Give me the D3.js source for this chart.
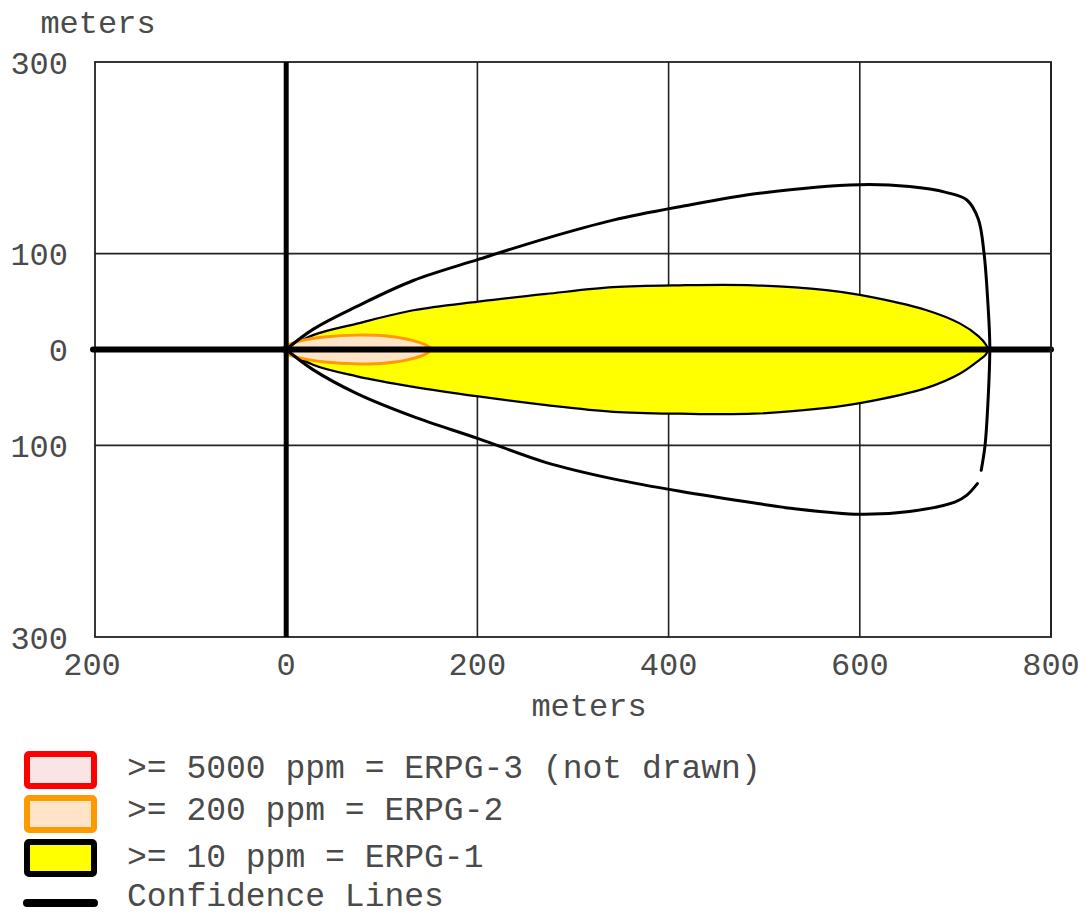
<!DOCTYPE html>
<html>
<head>
<meta charset="utf-8">
<script src="https://cdn.jsdelivr.net/npm/d3@7"></script>
<style>
  html, body { margin: 0; padding: 0; background: #fff; }
  svg text { font-family: "Liberation Mono", "Courier New", monospace; fill: #4a4a4a; }
</style>
</head>
<body>
<svg id="chart" width="1088" height="916"></svg>
<script>
// ---------- data ----------
const xTicks = [-200, 0, 200, 400, 600, 800];
const yTicks = [300, 100, 0, -100, -300];
const xGrid = [200, 400, 600];
const yGrid = [100, -100];

// ERPG-1 (>= 10 ppm) footprint, upper then lower edge (meters)
const erpg1Upper = [[0,0],[28,15],[74,27],[133,41],[201,50],[272,58],[342,65],[412,67],[489,67],[565,62],[600,57],[670,41],[705,27],[724,14],[732,5],[734,0]];
const erpg1Lower = [[732,-5],[725,-11],[705,-25],[670,-40],[600,-56],[565,-61],[489,-67],[412,-67],[342,-65],[272,-58],[201,-49],[133,-39],[74,-28],[28,-16],[0,0]];

// ERPG-2 (>= 200 ppm) footprint
const erpg2Upper = [[-5,0],[0,4],[15,9],[40,13],[75,15],[105,14],[130,10],[145,5],[152,0]];
const erpg2Lower = [[145,-5],[130,-10],[105,-14],[75,-15],[40,-13],[15,-9],[0,-4],[-5,0]];

// Confidence lines (null = gap in the drawn line)
const confidence = [[0,0],[28,21],[74,45],[133,72],[201,94],[272,116],[342,135],[412,149],[495,163],[600,172],[652,170],[690,164],[712,156],[724,136],[730,100],[734,48],[736,3],[734,-56],[731,-100],[727,-126],null,
  [723,-140],[712,-152],[700,-159],[652,-169],[600,-172],[530,-166],[495,-161],[412,-148],[342,-135],[272,-118],[201,-93],[133,-70],[74,-46],[28,-21],[0,0]];

const legendLabels = [">= 5000 ppm = ERPG-3 (not drawn)", ">= 200 ppm = ERPG-2", ">= 10 ppm = ERPG-1", "Confidence Lines"];

// ---------- layout ----------
const svg = d3.select("#chart");
const pL = 95, pR = 1051, pT = 62, pB = 637;
const x = d3.scaleLinear().domain([-200, 800]).range([pL, pR]);
const y = d3.scaleLinear().domain([-300, 300]).range([pB, pT]);

const g = svg.append("g");

// grid lines
g.selectAll(".vg").data(xGrid).join("line")
  .attr("x1", d => x(d)).attr("x2", d => x(d)).attr("y1", pT).attr("y2", pB)
  .attr("stroke", "#222").attr("stroke-width", 1.6);
g.selectAll(".hg").data(yGrid).join("line")
  .attr("x1", pL).attr("x2", pR).attr("y1", d => y(d)).attr("y2", d => y(d))
  .attr("stroke", "#222").attr("stroke-width", 1.6);

// frame
g.append("rect").attr("x", pL).attr("y", pT).attr("width", pR - pL).attr("height", pB - pT)
  .attr("fill", "none").attr("stroke", "#222").attr("stroke-width", 1.8);

const line = d3.line().x(d => x(d[0])).y(d => y(d[1])).curve(d3.curveCatmullRom.alpha(0.5));

// ERPG-1
g.append("path").attr("d", line(erpg1Upper.concat(erpg1Lower)) + "Z")
  .attr("fill", "#ffff00").attr("stroke", "#000").attr("stroke-width", 2.2);

// ERPG-2
g.append("path").attr("d", line(erpg2Upper.concat(erpg2Lower)) + "Z")
  .attr("fill", "#ffe4c8").attr("stroke", "#ff9900").attr("stroke-width", 3);

// confidence lines
const confLine = d3.line().defined(d => d !== null).x(d => x(d[0])).y(d => y(d[1])).curve(d3.curveCatmullRom.alpha(0.5));
g.append("path").attr("d", confLine(confidence))
  .attr("fill", "none").attr("stroke", "#000").attr("stroke-width", 3).attr("stroke-linecap", "round");

// thick axes at 0
g.append("line").attr("x1", x(-200) - 2).attr("x2", pR).attr("y1", y(0)).attr("y2", y(0))
  .attr("stroke", "#000").attr("stroke-width", 6).attr("stroke-linecap", "round");
g.append("line").attr("x1", x(0)).attr("x2", x(0)).attr("y1", pT).attr("y2", pB)
  .attr("stroke", "#000").attr("stroke-width", 5);
g.append("line").attr("x1", pR).attr("x2", pR).attr("y1", pT).attr("y2", pB)
  .attr("stroke", "#222").attr("stroke-width", 1.8);

// tick labels
g.selectAll(".yt").data(yTicks).join("text")
  .attr("x", 68).attr("y", d => y(d)).attr("dy", "0.36em")
  .attr("text-anchor", "end").attr("font-size", 32)
  .text(d => Math.abs(d));
g.selectAll(".xt").data(xTicks).join("text")
  .attr("x", d => x(d) - (d === -200 ? 3 : 0)).attr("y", 663).attr("dy", "0.36em")
  .attr("text-anchor", "middle").attr("font-size", 32)
  .text(d => Math.abs(d));

// axis titles
g.append("text").attr("x", 98).attr("y", 21).attr("dy", "0.36em").attr("text-anchor", "middle")
  .attr("font-size", 32).text("meters");
g.append("text").attr("x", 589).attr("y", 704).attr("dy", "0.36em").attr("text-anchor", "middle")
  .attr("font-size", 32).text("meters");

// legend
const legStyles = [
  {stroke: "#ff0000", fill: "#fbe4e4"},
  {stroke: "#ff9900", fill: "#ffe4c8"},
  {stroke: "#000000", fill: "#ffff00"}
];
const legY = [770, 814, 858, 903];
const legTextY = [766, 808, 855, 894];
const leg = svg.append("g");
legStyles.forEach((s, i) => {
  leg.append("rect").attr("x", 27).attr("y", legY[i] - 16).attr("width", 67).attr("height", 32)
    .attr("rx", 2).attr("fill", s.fill).attr("stroke", s.stroke).attr("stroke-width", 6);
});
leg.append("line").attr("x1", 27).attr("x2", 94).attr("y1", legY[3]).attr("y2", legY[3])
  .attr("stroke", "#000").attr("stroke-width", 8).attr("stroke-linecap", "round");
leg.selectAll("text").data(legendLabels).join("text")
  .attr("x", 127).attr("y", (d, i) => legTextY[i]).attr("dy", "0.36em")
  .attr("font-size", 33).text(d => d);
</script>
</body>
</html>
